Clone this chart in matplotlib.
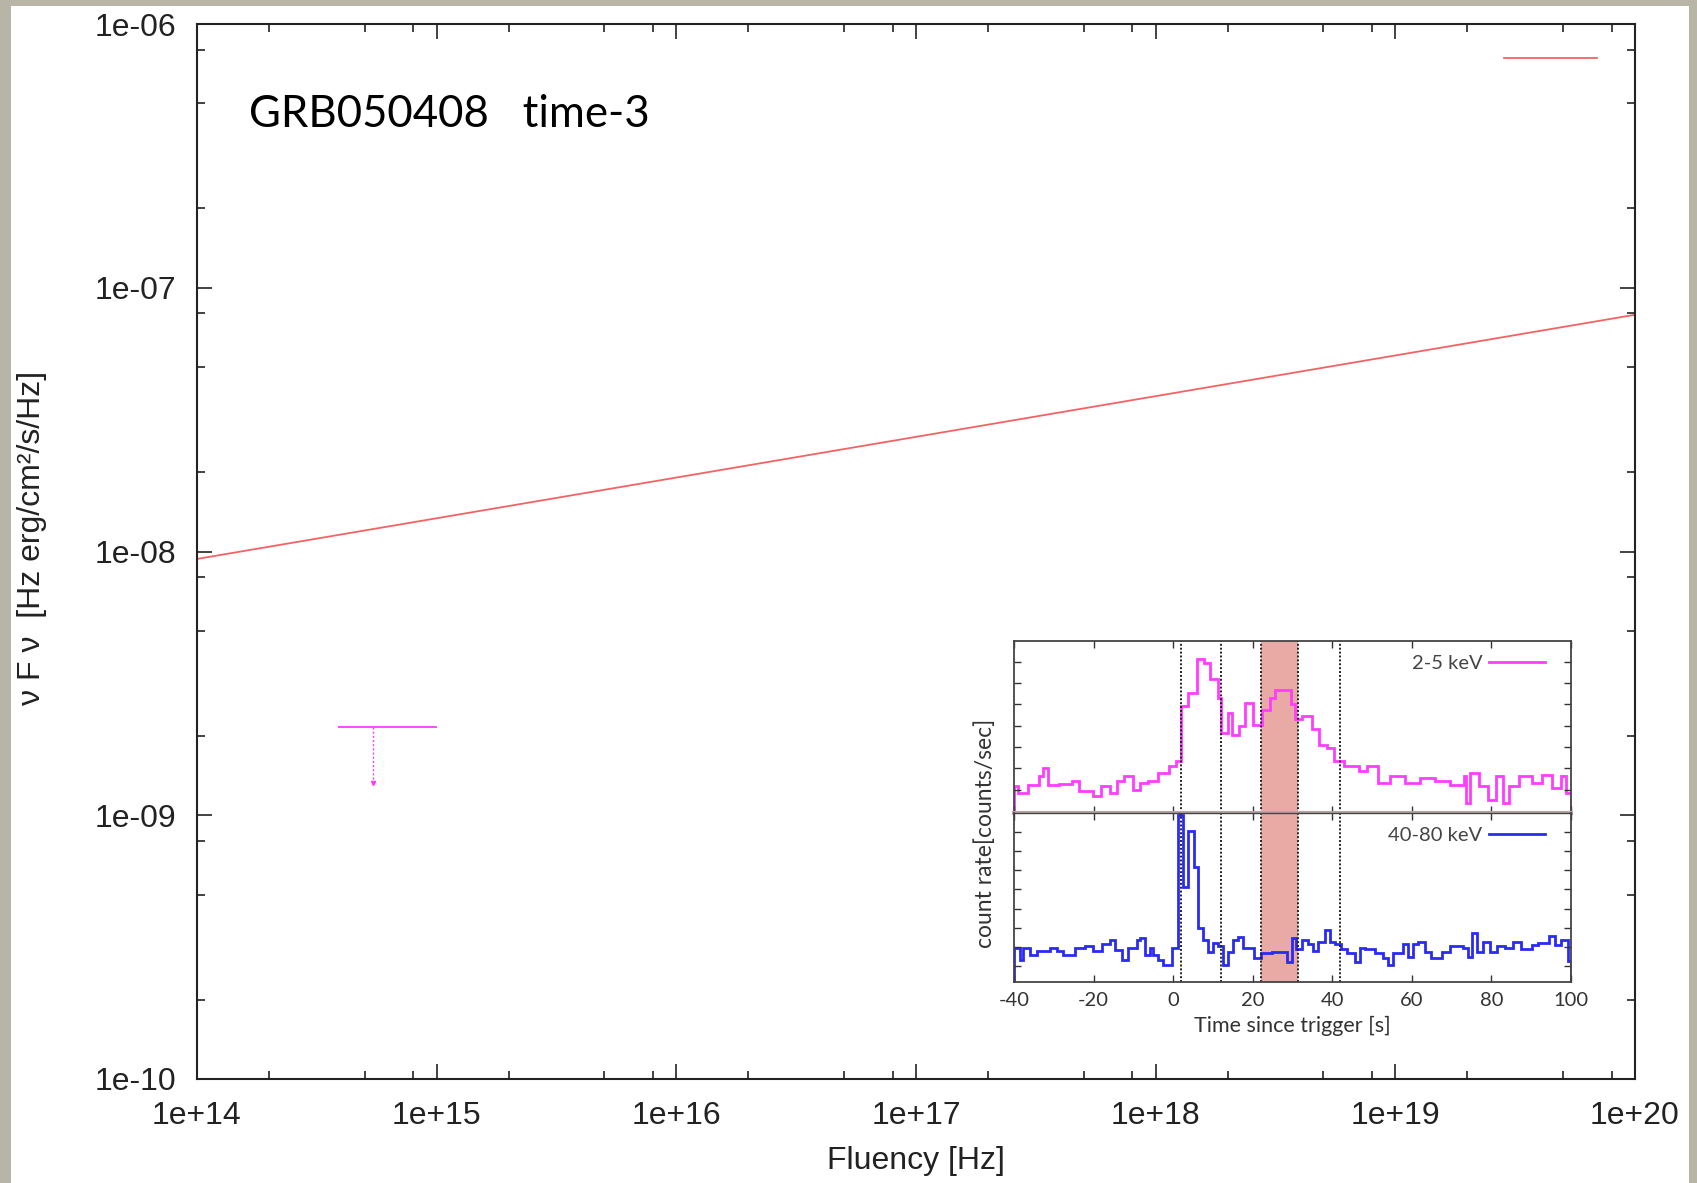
import numpy as np
import matplotlib.pyplot as plt
from matplotlib.patches import Rectangle
from matplotlib.lines import Line2D
from matplotlib.ticker import LogLocator, NullFormatter, FixedLocator

plt.rcParams['axes.unicode_minus'] = False

# main SED panel
line_nu = [1e14, 1e20]
line_flux = [9.37e-9, 7.9e-8]

ul_nu = 5.4e14
ul_nu_lo = 3.87e14
ul_nu_hi = 1.0e15
ul_flux = 2.16e-9
ul_arrow_end = 1.32e-9

x_ticks = [1e14, 1e15, 1e16, 1e17, 1e18, 1e19, 1e20]
x_tick_labels = ['1e+14', '1e+15', '1e+16', '1e+17', '1e+18', '1e+19', '1e+20']
y_ticks = [1e-10, 1e-9, 1e-8, 1e-7, 1e-6]
y_tick_labels = ['1e-10', '1e-09', '1e-08', '1e-07', '1e-06']

# inset light curves (arbitrary count-rate units)
soft_edges = [-40, -38.9, -36.5, -33.6, -32.6, -31.5, -28.8, -25.5, -23.6, -20.2,
              -18.1, -15.9, -14.0, -12.4, -10.2, -8.3, -6.3, -3.9, -1.1, 0.6,
              2.0, 3.7, 6.1, 7.7, 9.2, 11.2, 12.1, 13.7, 14.7, 16.6,
              18.0, 20.0, 22.3, 24.3, 25.7, 29.5, 30.7, 32.4, 34.8, 36.7,
              38.6, 40.5, 42.9, 46.7, 48.6, 51.5, 54.4, 58.2, 62.0, 65.9,
              69.7, 73.0, 73.7, 74.7, 76.9, 79.2, 81.2, 82.9, 84.5, 86.9,
              90.2, 92.6, 95.3, 97.4, 98.8, 100]
soft_rate = [1.25, 0.94, 1.33, 1.72, 2.1, 1.33, 1.38, 1.48, 1.02, 0.78,
             1.25, 0.94, 1.48, 1.72, 1.09, 1.41, 1.48, 1.88, 2.19, 2.42,
             5.0, 5.63, 7.19, 7.03, 6.25, 5.39, 3.75, 4.69, 3.67, 4.06,
             5.16, 4.14, 4.84, 5.39, 5.78, 5.08, 4.38, 4.53, 3.91, 3.20,
             3.05, 2.42, 2.19, 1.95, 2.19, 1.41, 1.72, 1.41, 1.64, 1.48,
             1.33, 1.72, 0.47, 1.88, 1.25, 0.62, 1.72, 0.47, 1.25, 1.72,
             1.41, 1.80, 1.17, 1.72, 0.94]

hard_edges = [-40, -38.5, -37.7, -36.0, -34.3, -31.0, -29.3, -27.6, -24.7, -22.2,
              -20.1, -18.0, -15.9, -14.6, -12.9, -11.3, -9.2, -8.3, -7.1, -5.8,
              -5.0, -3.7, -2.5, -0.4, 1.3, 2.4, 3.8, 5.3, 6.3, 7.6,
              8.8, 10.1, 11.3, 12.6, 13.9, 15.1, 16.4, 17.6, 20.2, 22.2,
              24.8, 28.5, 29.8, 31.0, 32.3, 34.0, 35.2, 36.5, 38.2, 39.4,
              40.7, 42.3, 43.6, 45.7, 46.9, 48.2, 50.7, 52.8, 54.1, 55.3,
              57.8, 59.1, 60.3, 61.6, 63.3, 64.9, 67.5, 69.6, 72.9, 74.2,
              75.0, 76.3, 78.0, 79.6, 81.3, 83.4, 85.5, 87.4, 90.2, 91.7,
              94.5, 96.0, 97.4, 99.3, 100]
hard_rate = [1.77, 1.15, 1.77, 1.4, 1.6, 1.75, 1.6, 1.4, 1.75, 1.9,
             1.6, 2.0, 2.2, 1.66, 1.15, 1.77, 2.2, 2.29, 1.4, 1.77,
             1.4, 1.15, 0.89, 1.77, 8.7, 4.96, 7.86, 5.99, 2.81, 2.19,
             1.58, 2.03, 1.9, 0.89, 1.58, 2.19, 2.36, 1.75, 1.25, 1.5,
             1.56, 1.06, 2.29, 1.7, 2.19, 1.98, 1.6, 2.1, 2.7, 2.1,
             1.98, 1.7, 1.5, 1.06, 1.77, 1.7, 1.5, 1.25, 0.89, 1.5,
             1.98, 1.3, 1.98, 2.1, 1.56, 1.25, 1.56, 1.86, 1.77, 1.3,
             2.55, 1.56, 2.1, 1.56, 1.86, 1.77, 2.1, 1.72, 1.94, 2.03,
             2.41, 1.94, 2.2, 1.08]

interval_lines = [2, 12, 22.2, 31.4, 42]
shade_span = (22.2, 31.4)
inset_xticks = [-40, -20, 0, 20, 40, 60, 80, 100]

W, H = 1697, 1183
RED = '#f26464'
MAG = '#ff3cff'
BLUE = '#2a2af5'
main_font = 'Liberation Sans'
inset_font = 'Lato'

fig = plt.figure(figsize=(W / 100, H / 100), dpi=100)
fig.patch.set_facecolor('#b9b5a6')
fig.add_artist(Rectangle((11 / W, 0), (1689 - 11) / W, (H - 6) / H,
                         transform=fig.transFigure, facecolor='white',
                         edgecolor='none', zorder=-10))

ax = fig.add_axes([197 / W, (H - 1079) / H, (1635 - 197) / W, (1079 - 24) / H])
ax.set_xscale('log')
ax.set_yscale('log')
ax.set_xlim(1e14, 1e20)
ax.set_ylim(1e-10, 1e-6)

ax.plot(line_nu, line_flux, color=RED, lw=1.3)
ax.errorbar([ul_nu], [ul_flux], xerr=[[ul_nu - ul_nu_lo], [ul_nu_hi - ul_nu]],
            fmt='none', ecolor=MAG, elinewidth=1.3, capsize=0)
ax.plot([ul_nu, ul_nu], [ul_flux, ul_arrow_end], color=MAG, lw=1.0, ls=(0, (1.5, 1.5)))
ax.plot([ul_nu], [ul_arrow_end], marker='v', ms=3, color=MAG, mec=MAG)

ax.legend(handles=[Line2D([], [], color=RED, lw=1.3)], labels=[''],
          loc='upper right', frameon=False, fontsize=23, handlelength=2.9,
          borderaxespad=0, bbox_to_anchor=(1.0, 1.0 - 8 / 1055))

ax.xaxis.set_major_locator(FixedLocator(x_ticks))
ax.set_xticklabels(x_tick_labels)
ax.yaxis.set_major_locator(FixedLocator(y_ticks))
ax.set_yticklabels(y_tick_labels)
ax.xaxis.set_minor_locator(LogLocator(base=10, subs=(2, 5, 8)))
ax.yaxis.set_minor_locator(LogLocator(base=10, subs=(2, 5, 8)))
ax.xaxis.set_minor_formatter(NullFormatter())
ax.yaxis.set_minor_formatter(NullFormatter())
ax.tick_params(which='both', direction='in', top=True, right=True, color='#222', width=1.2)
ax.tick_params(which='major', length=11)
ax.tick_params(which='minor', length=6)
ax.tick_params(axis='x', which='major', pad=16)
ax.tick_params(axis='y', which='major', pad=15)
for lab in ax.get_xticklabels() + ax.get_yticklabels():
    lab.set_fontfamily(main_font)
    lab.set_fontsize(23)
    lab.set_color('#222')
for s in ax.spines.values():
    s.set_linewidth(1.5)
    s.set_color('#222')

ax.set_xlabel('Fluency [Hz]', fontfamily=main_font, fontsize=23, color='#222')
ax.xaxis.set_label_coords(0.5, -(1161 - 1079) / (1079 - 24), transform=ax.transAxes)
ax.xaxis.label.set_va('center')
ax.set_ylabel('ν F ν  [Hz erg/cm²/s/Hz]', fontfamily=main_font, fontsize=23, color='#222')
ax.yaxis.set_label_coords(-(197 - 32) / (1635 - 197), (1079 - 538) / (1079 - 24))
ax.yaxis.label.set_va('center')

fig.text(249 / W, (H - 127) / H, 'GRB050408   time-3', fontfamily=inset_font,
         fontsize=31.5, color='black', va='baseline', ha='left')

# inset: light curves
ix0, ix1 = 1014 / W, 1571 / W
top_y, mid_y, bot_y = 641, 813, 982
ax_top = fig.add_axes([ix0, (H - mid_y) / H, ix1 - ix0, (mid_y - top_y) / H])
ax_bot = fig.add_axes([ix0, (H - bot_y) / H, ix1 - ix0, (bot_y - mid_y) / H])

ax_top.stairs(soft_rate, soft_edges, color=MAG, lw=2.0, label='2-5 keV')
ax_bot.stairs(hard_rate, hard_edges, color=BLUE, lw=2.0, label='40-80 keV')
ax_top.set_ylim(0, 8.05)
ax_bot.set_ylim(0, 8.8)
ax_top.set_yticks(np.arange(1.09, 7.2, 1.0))
ax_bot.set_yticks(np.arange(0.82, 8.0, 1.0))

for a in (ax_top, ax_bot):
    a.set_xlim(-40, 100)
    a.axvspan(*shade_span, color='#e9a9a5', zorder=0, lw=0)
    for t in interval_lines:
        a.axvline(t, color='#222', lw=1.4, ls=(0, (1, 1)), zorder=1)
    a.set_xticks(inset_xticks)
    a.tick_params(direction='in', top=True, right=True, length=5, width=1.0,
                  color='#333', labelleft=False)
    for s in a.spines.values():
        s.set_color('#444')
        s.set_linewidth(1.3)
    leg = a.legend(loc='upper right', frameon=False, markerfirst=False,
                   prop={'family': inset_font, 'size': 14.5}, handlelength=2.8,
                   borderaxespad=0, handletextpad=0.3,
                   bbox_to_anchor=(1.0 - 18 / 557, 1.0 - 6 / 170))
    for txt in leg.get_texts():
        txt.set_color('#444')

ax_top.tick_params(labelbottom=False)
ax_top.spines['bottom'].set_color('#b7a6a5')
ax_top.spines['bottom'].set_linewidth(3)
ax_bot.spines['top'].set_linewidth(1.0)
for lab in ax_bot.get_xticklabels():
    lab.set_fontfamily(inset_font)
    lab.set_fontsize(14.5)
    lab.set_color('#333')
ax_bot.tick_params(axis='x', pad=7)
ax_bot.set_xlabel('Time since trigger [s]', fontfamily=inset_font, fontsize=15.5,
                  color='#333', labelpad=5)
fig.text(985 / W, (H - 833) / H, 'count rate[counts/sec]', rotation=90,
         fontfamily=inset_font, fontsize=16.5, color='#333', ha='center', va='center')

fig.savefig('out.png', dpi=100, facecolor=fig.get_facecolor())
